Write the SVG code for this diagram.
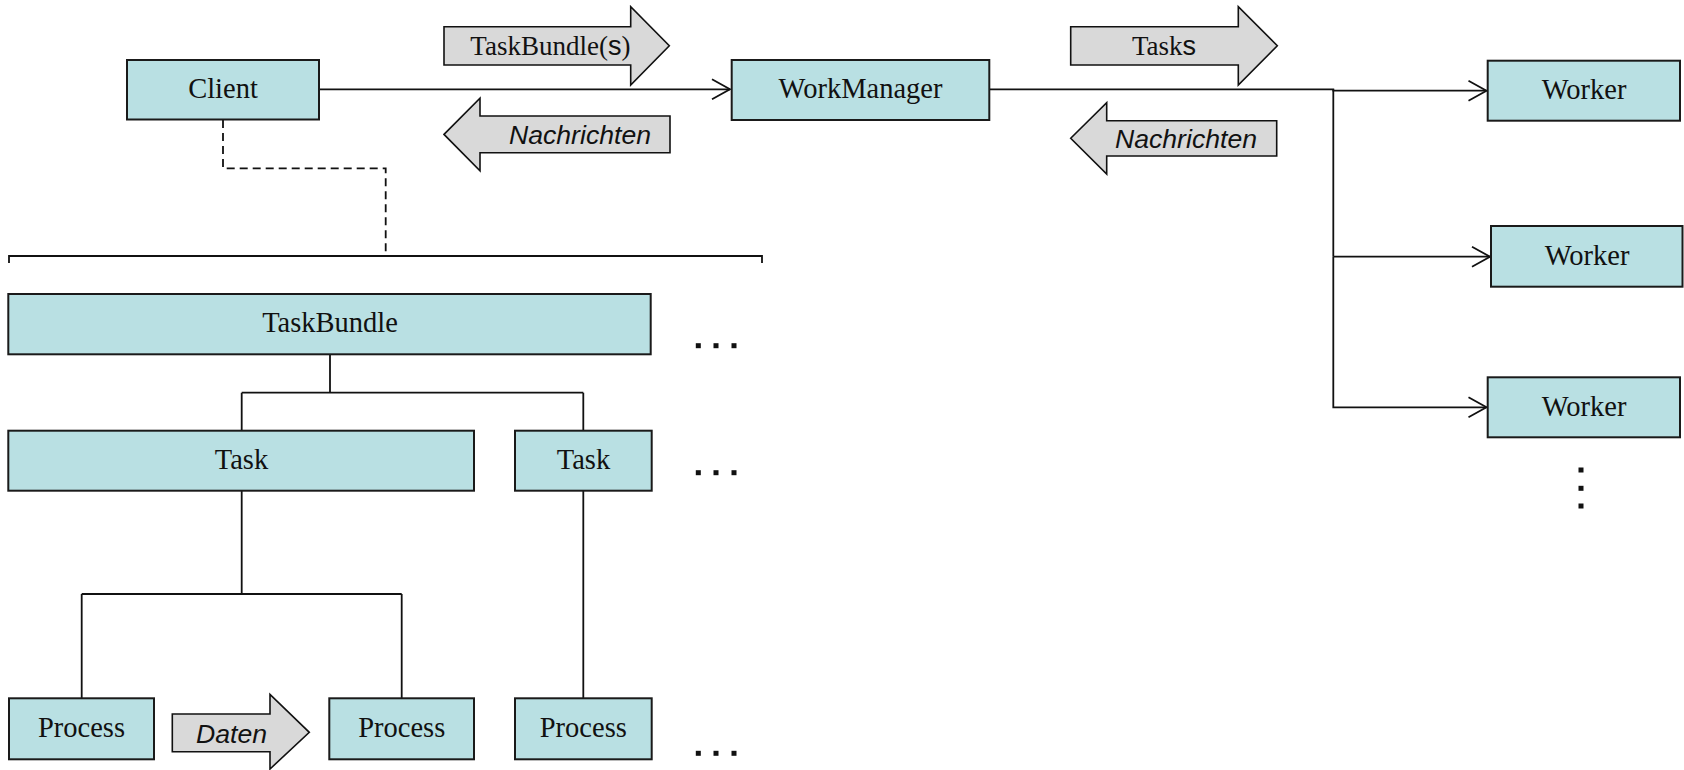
<svg xmlns="http://www.w3.org/2000/svg" width="1684" height="770" viewBox="0 0 1684 770">
<style>
.box{fill:#b9e0e3;stroke:#1a1a1a;stroke-width:2}
.lbl{font-family:"Liberation Serif","Times New Roman",serif;font-size:28.5px;fill:#111;text-anchor:middle}
.blk{fill:#d9d9d9;stroke:#111;stroke-width:1.6;stroke-linejoin:miter}
.al{font-family:"Liberation Serif","Times New Roman",serif;font-size:27px;fill:#111;text-anchor:middle}
.sans{font-family:"Liberation Sans",Arial,sans-serif}
.it{font-family:"Liberation Sans",Arial,sans-serif;font-style:italic;font-size:25px;fill:#111;text-anchor:middle}
.ln{fill:none;stroke:#111;stroke-width:1.8}
.dot{fill:#111}
</style>
<defs>
<marker id="open" markerUnits="userSpaceOnUse" markerWidth="20" markerHeight="22" refX="18" refY="10" orient="auto" overflow="visible">
<path d="M0,0 L18,10 L0,20" fill="none" stroke="#111" stroke-width="1.8"/>
</marker>
</defs>
<g id="connectors">
<path class="ln" d="M319,89.3 H730" marker-end="url(#open)"/>
<path class="ln" d="M223,120 V168.3 H385.7 V256" stroke-dasharray="8 5"/>
<path class="ln" d="M9,263 V256 H762 V263"/>
<path class="ln" d="M989.3,89.3 H1333.3 V90.7 H1486.5" marker-end="url(#open)"/>
<path class="ln" d="M1333.3,89.3 V256.7" stroke-width="3"/>
<path class="ln" d="M1333.3,256.7 H1490" marker-end="url(#open)"/>
<path class="ln" d="M1333.3,256.7 V407.3 H1486.5" marker-end="url(#open)"/>
<path class="ln" d="M330,354.3 V392.7 M241.7,392.7 H583.3 M241.7,392.7 V430.7 M583.3,392.7 V430.7"/>
<path class="ln" d="M241.7,490.7 V594 M81.7,594 H401.7 M81.7,594 V698.3 M401.7,594 V698.3"/>
<path class="ln" d="M583.3,490.7 V698.3"/>
</g>
<g id="client"><rect class="box" x="127" y="60" width="192" height="59.5"/><text class="lbl" x="223" y="97.7">Client</text></g>
<g id="workmanager"><rect class="box" x="731.7" y="60" width="257.6" height="60"/><text class="lbl" x="860.5" y="98">WorkManager</text></g>
<g id="worker1"><rect class="box" x="1487.7" y="60.7" width="192.3" height="60"/><text class="lbl" x="1584" y="99">Worker</text></g>
<g id="worker2"><rect class="box" x="1491" y="226" width="191.5" height="60.7"/><text class="lbl" x="1587" y="264.7">Worker</text></g>
<g id="worker3"><rect class="box" x="1487.7" y="377.3" width="192.3" height="60"/><text class="lbl" x="1584" y="415.5">Worker</text></g>
<g id="taskbundle"><rect class="box" x="8.3" y="294" width="642.4" height="60.3"/><text class="lbl" x="330" y="332.3">TaskBundle</text></g>
<g id="task1"><rect class="box" x="8.3" y="430.7" width="465.7" height="60"/><text class="lbl" x="241.5" y="468.5">Task</text></g>
<g id="task2"><rect class="box" x="515" y="430.7" width="136.7" height="60"/><text class="lbl" x="583.5" y="468.5">Task</text></g>
<g id="process1"><rect class="box" x="9" y="698.3" width="145" height="61"/><text class="lbl" x="81.5" y="736.7">Process</text></g>
<g id="process2"><rect class="box" x="329.3" y="698.3" width="144.7" height="61"/><text class="lbl" x="401.7" y="736.7">Process</text></g>
<g id="process3"><rect class="box" x="515" y="698.3" width="136.7" height="61"/><text class="lbl" x="583.3" y="736.7">Process</text></g>
<g id="arrow-taskbundles">
<polygon class="blk" points="444,26.7 630.7,26.7 630.7,6.7 669.3,45.8 630.7,85 630.7,65 444,65"/>
<text class="al" x="550.4" y="55">TaskBundle(<tspan class="sans">s</tspan>)</text>
</g>
<g id="arrow-nachrichten-left">
<polygon class="blk" points="444,134.4 480,98.3 480,116 670,116 670,152.7 480,152.7 480,170.7"/>
<text class="it" x="580" y="144.3" textLength="142" lengthAdjust="spacingAndGlyphs">Nachrichten</text>
</g>
<g id="arrow-tasks">
<polygon class="blk" points="1070.7,26.7 1238.3,26.7 1238.3,6.7 1277.3,45.8 1238.3,85 1238.3,65 1070.7,65"/>
<text class="al" x="1164" y="55">Task<tspan class="sans">s</tspan></text>
</g>
<g id="arrow-nachrichten-right">
<polygon class="blk" points="1070.7,138.3 1106.7,102.7 1106.7,120.7 1276.7,120.7 1276.7,156 1106.7,156 1106.7,174"/>
<text class="it" x="1186" y="147.8" textLength="142" lengthAdjust="spacingAndGlyphs">Nachrichten</text>
</g>
<g id="arrow-daten">
<polygon class="blk" points="172.3,714 270,714 270,694.5 309.3,732.3 270,769 270,751.7 172.3,751.7"/>
<text class="it" x="231.5" y="742.7" textLength="71" lengthAdjust="spacingAndGlyphs">Daten</text>
</g>
<g id="ellipses">
<rect class="dot" x="695.8" y="343.2" width="5" height="5"/><rect class="dot" x="713.5" y="343.2" width="5" height="5"/><rect class="dot" x="731.5" y="343.2" width="5" height="5"/>
<rect class="dot" x="695.8" y="470.2" width="5" height="5"/><rect class="dot" x="713.5" y="470.2" width="5" height="5"/><rect class="dot" x="731.5" y="470.2" width="5" height="5"/>
<rect class="dot" x="695.8" y="750.8" width="5" height="5"/><rect class="dot" x="713.5" y="750.8" width="5" height="5"/><rect class="dot" x="731.5" y="750.8" width="5" height="5"/>
<rect class="dot" x="1578.5" y="467.5" width="5" height="5"/><rect class="dot" x="1578.5" y="485.8" width="5" height="5"/><rect class="dot" x="1578.5" y="503.5" width="5" height="5"/>
</g>
</svg>
